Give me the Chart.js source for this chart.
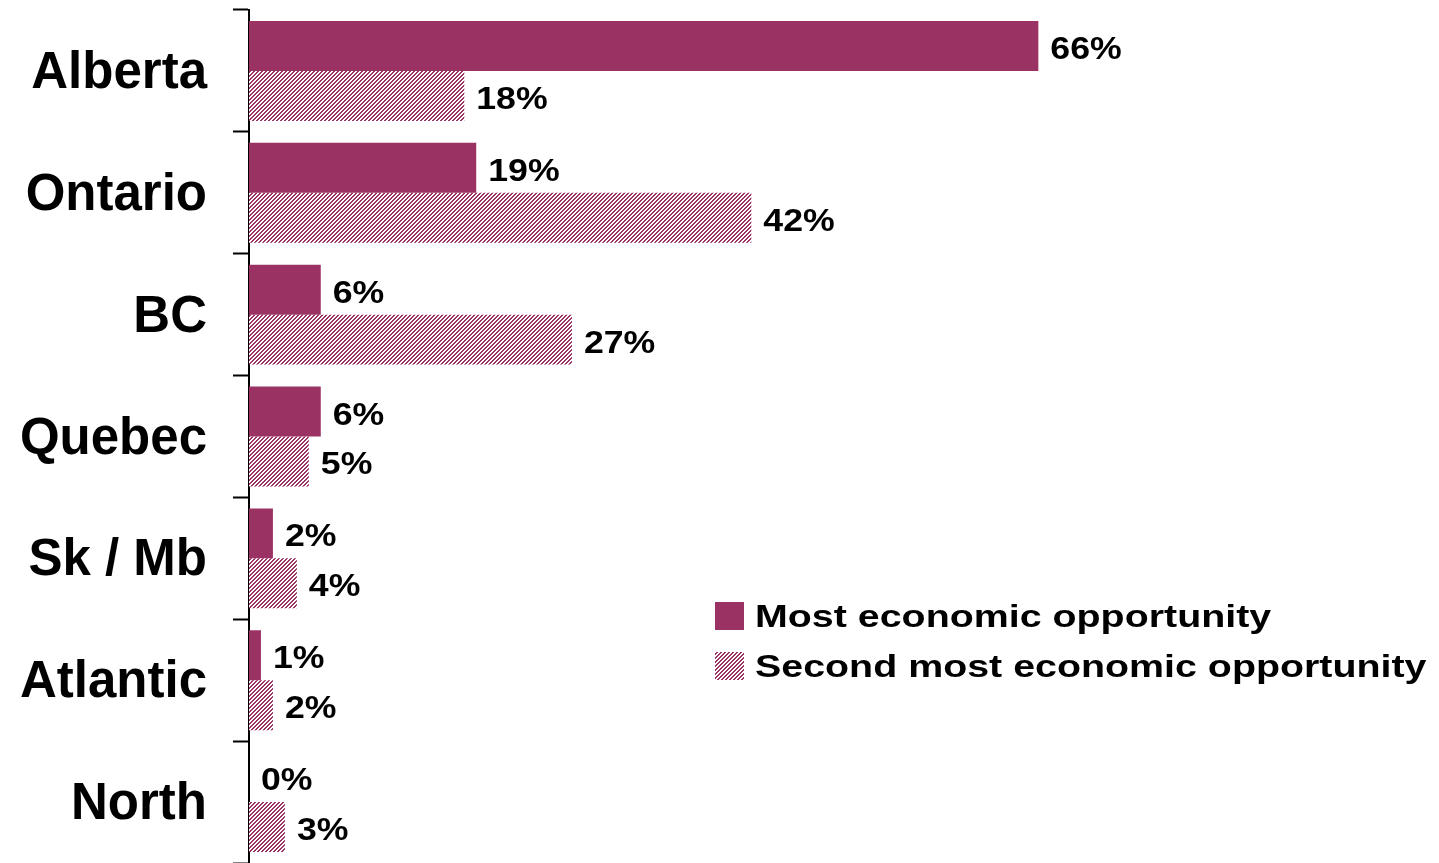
<!DOCTYPE html>
<html>
<head>
<meta charset="utf-8">
<script src="https://cdn.jsdelivr.net/npm/chart.js@4"></script>
<style>
  body { margin: 0; background: #fff; }
</style>
</head>
<body>
<canvas id="chart" width="1439" height="863"></canvas>
<script>
const regions = ['Alberta', 'Ontario', 'BC', 'Quebec', 'Sk / Mb', 'Atlantic', 'North'];
const mostOpportunity = [66, 19, 6, 6, 2, 1, 0];
const secondOpportunity = [18, 42, 27, 5, 4, 2, 3];
const seriesNames = ['Most economic opportunity', 'Second most economic opportunity'];

const plum = '#9b3264';
const fontFamily = '"Liberation Sans", Arial, Helvetica, sans-serif';

// small diagonal hatch for the second series
function hatch(color) {
    const c = document.createElement('canvas');
    c.width = 4;
    c.height = 4;
    const g = c.getContext('2d');
    g.fillStyle = '#fff';
    g.fillRect(0, 0, 4, 4);
    g.fillStyle = color;
    for (let y = 0; y < 4; y++) {
        for (let x = 0; x < 4; x++) {
            if ((x + y) % 4 < 2) g.fillRect(x, y, 1, 1);
        }
    }
    return g.createPattern(c, 'repeat');
}

// percent labels at the end of each bar
const valueLabels = {
    id: 'valueLabels',
    afterDatasetsDraw(chart) {
        const ctx = chart.ctx;
        ctx.save();
        ctx.fillStyle = '#000';
        ctx.font = 'bold 31px ' + fontFamily;
        ctx.textBaseline = 'alphabetic';
        chart.data.datasets.forEach((ds, i) => {
            chart.getDatasetMeta(i).data.forEach((bar, j) => {
                ctx.save();
                ctx.translate(bar.x + 12, bar.y + 13);
                ctx.scale(1.15, 1);
                ctx.fillText(ds.data[j] + '%', 0, 0);
                ctx.restore();
            });
        });
        ctx.restore();
    }
};

// legend sitting inside the plot, lower right
const boxLegend = {
    id: 'boxLegend',
    afterDraw(chart) {
        const ctx = chart.ctx;
        const left = 715, top = 602, rowGap = 50, box = 28;
        ctx.save();
        ctx.font = 'bold 31px ' + fontFamily;
        ctx.textBaseline = 'alphabetic';
        chart.data.datasets.forEach((ds, i) => {
            const y = top + i * rowGap;
            ctx.fillStyle = ds.backgroundColor;
            ctx.fillRect(left, y, box + 1, box);
            ctx.fillStyle = '#000';
            ctx.save();
            ctx.translate(left + 40, y + box / 2 + 11);
            ctx.scale(1.27, 1);
            ctx.fillText(seriesNames[i], 0, 0);
            ctx.restore();
        });
        ctx.restore();
    }
};

new Chart(document.getElementById('chart').getContext('2d'), {
    type: 'bar',
    data: {
        labels: regions,
        datasets: [
            {
                label: seriesNames[0],
                data: mostOpportunity,
                backgroundColor: plum,
                categoryPercentage: 0.82,
                barPercentage: 1
            },
            {
                label: seriesNames[1],
                data: secondOpportunity,
                backgroundColor: hatch(plum),
                categoryPercentage: 0.82,
                barPercentage: 1
            }
        ]
    },
    options: {
        indexAxis: 'y',
        responsive: false,
        animation: false,
        layout: { padding: { top: 10, right: 0, bottom: 0, left: 0 } },
        plugins: {
            legend: { display: false },
            tooltip: { enabled: false }
        },
        scales: {
            x: { display: false, min: 0, max: 99.5 },
            y: {
                afterFit(scale) {
                    // fixed gutter, and no extra room for the end labels
                    scale.width = 249;
                    scale.paddingTop = 0;
                    scale.paddingBottom = 0;
                },
                grid: {
                    offset: true,
                    drawOnChartArea: false,
                    tickLength: 16,
                    tickColor: '#000',
                    tickWidth: 2
                },
                border: { color: '#000', width: 2 },
                ticks: {
                    color: '#000',
                    padding: 26,
                    labelOffset: 3,
                    font: { family: fontFamily, size: 51, weight: 'bold' }
                }
            }
        }
    },
    plugins: [valueLabels, boxLegend]
});
</script>
</body>
</html>
